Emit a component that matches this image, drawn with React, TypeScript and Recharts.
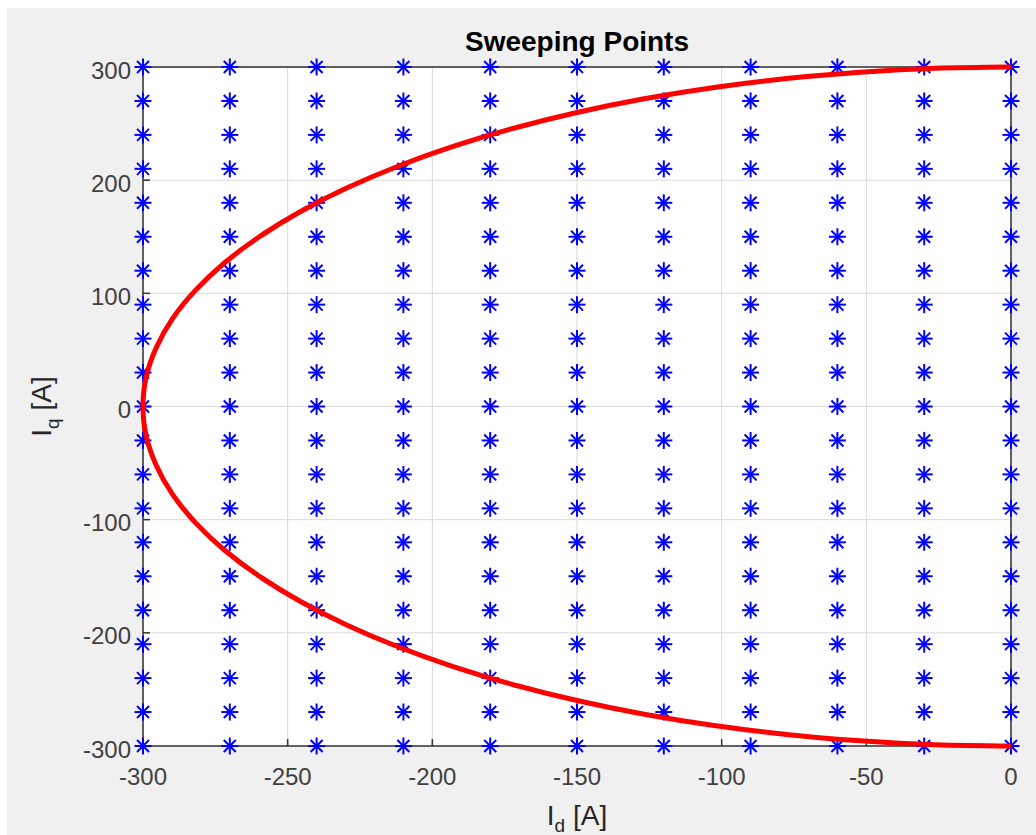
import React from "react";
import {
  ScatterChart,
  Scatter,
  XAxis,
  YAxis,
  CartesianGrid,
} from "recharts";

// sweep grid (blue stars)
const idValues = [-300, -270, -240, -210, -180, -150, -120, -90, -60, -30, 0];
const iqValues = [
  -300, -270, -240, -210, -180, -150, -120, -90, -60, -30, 0, 30, 60, 90, 120,
  150, 180, 210, 240, 270, 300,
];

// current limit curve (red)
const curveId = [
  0, -26.1, -52.1, -77.6, -102.6, -126.8, -150, -172.1, -192.8, -212.1, -229.8,
  -245.7, -259.8, -271.9, -281.9, -289.8, -295.4, -298.9, -300, -298.9, -295.4,
  -289.8, -281.9, -271.9, -259.8, -245.7, -229.8, -212.1, -192.8, -172.1, -150,
  -126.8, -102.6, -77.6, -52.1, -26.1, 0,
];
const curveIq = [
  -300, -298.9, -295.4, -289.8, -281.9, -271.9, -259.8, -245.7, -229.8, -212.1,
  -192.8, -172.1, -150, -126.8, -102.6, -77.6, -52.1, -26.1, 0, 26.1, 52.1,
  77.6, 102.6, 126.8, 150, 172.1, 192.8, 212.1, 229.8, 245.7, 259.8, 271.9,
  281.9, 289.8, 295.4, 298.9, 300,
];

const xTicks = [-300, -250, -200, -150, -100, -50, 0];
const yTicks = [-300, -200, -100, 0, 100, 200, 300];

const sweepPoints = idValues.flatMap((id) => iqValues.map((iq) => ({ id, iq })));
const curvePoints = curveId.map((id, i) => ({ id, iq: curveIq[i] }));

const FONT = '"Liberation Sans", Arial, Helvetica, sans-serif';
const AXIS_COLOR = "#333333";
const TICK_COLOR = "#404040";

const Star = (props: any) => {
  const { cx, cy } = props;
  const r = 8.5;
  const d = 6;
  return (
    <g stroke="#0000ff" strokeWidth={2}>
      <line x1={cx - r} y1={cy} x2={cx + r} y2={cy} />
      <line x1={cx} y1={cy - r} x2={cx} y2={cy + r} />
      <line x1={cx - d} y1={cy - d} x2={cx + d} y2={cy + d} />
      <line x1={cx - d} y1={cy + d} x2={cx + d} y2={cy - d} />
    </g>
  );
};

const NoDot = () => <g />;

const XTick = (props: any) => {
  const { x, y, payload } = props;
  return (
    <text
      x={x}
      y={y}
      dy={17}
      textAnchor="middle"
      fill={TICK_COLOR}
      fontSize={24}
      fontFamily={FONT}
    >
      {payload.value}
    </text>
  );
};

const YTick = (props: any) => {
  const { x, y, payload } = props;
  return (
    <text
      x={x}
      y={y}
      dy={11.5}
      textAnchor="end"
      fill={TICK_COLOR}
      fontSize={24}
      fontFamily={FONT}
    >
      {payload.value}
    </text>
  );
};

const TitleLabel = (props: any) => {
  const { viewBox } = props;
  if (!viewBox) return null;
  return (
    <text
      x={viewBox.x + viewBox.width / 2}
      y={viewBox.y - 15}
      textAnchor="middle"
      fontSize={28}
      fontWeight="bold"
      fontFamily={FONT}
      fill="#000"
    >
      Sweeping Points
    </text>
  );
};

const XLabel = (props: any) => {
  const { viewBox } = props;
  if (!viewBox) return null;
  return (
    <text
      x={viewBox.x + viewBox.width / 2}
      y={viewBox.y + 79}
      textAnchor="middle"
      fontSize={28}
      fontFamily={FONT}
      fill="#262626"
    >
      I
      <tspan fontSize={19} dy={7}>
        d
      </tspan>
      <tspan dy={-7}> [A]</tspan>
    </text>
  );
};

const YLabel = (props: any) => {
  const { viewBox } = props;
  if (!viewBox) return null;
  const x = viewBox.x + viewBox.width - 92;
  const y = viewBox.y + viewBox.height / 2;
  return (
    <text
      x={x}
      y={y}
      transform={`rotate(-90 ${x} ${y})`}
      textAnchor="middle"
      fontSize={28}
      fontFamily={FONT}
      fill="#262626"
    >
      I
      <tspan fontSize={19} dy={8}>
        q
      </tspan>
      <tspan dy={-8}> [A]</tspan>
    </text>
  );
};

export default function App() {
  return (
    <div
      style={{
        position: "fixed",
        left: 7,
        top: 8,
        width: 1029,
        height: 827,
        background: "#f0f0f0",
      }}
    >
      <ScatterChart
        width={1029}
        height={827}
        margin={{ top: 58, right: 24, bottom: 0, left: 0 }}
      >
        <CartesianGrid stroke="#d9d9d9" strokeWidth={1} fill="#ffffff" />
        <XAxis
          type="number"
          dataKey="id"
          domain={[-300, 0]}
          ticks={xTicks}
          height={89}
          stroke={AXIS_COLOR}
          strokeWidth={1.5}
          tickSize={-7}
          tickMargin={28.5}
          tick={<XTick />}
          label={<XLabel />}
        />
        <XAxis
          xAxisId="top"
          orientation="top"
          type="number"
          dataKey="id"
          domain={[-300, 0]}
          ticks={xTicks}
          height={1}
          stroke={AXIS_COLOR}
          strokeWidth={1.5}
          tickSize={-7}
          tick={false}
          label={<TitleLabel />}
        />
        <YAxis
          type="number"
          dataKey="iq"
          domain={[-300, 300]}
          ticks={yTicks}
          width={136}
          stroke={AXIS_COLOR}
          strokeWidth={1.5}
          tickSize={-7}
          tickMargin={19}
          tick={<YTick />}
          label={<YLabel />}
        />
        <YAxis
          yAxisId="right"
          orientation="right"
          type="number"
          dataKey="iq"
          domain={[-300, 300]}
          ticks={yTicks}
          width={1}
          stroke={AXIS_COLOR}
          strokeWidth={1.5}
          tickSize={-7}
          tick={false}
        />
        <Scatter
          data={curvePoints}
          xAxisId="top"
          yAxisId="right"
          shape={<NoDot />}
          isAnimationActive={false}
        />
        <Scatter
          data={sweepPoints}
          shape={<Star />}
          isAnimationActive={false}
        />
        <Scatter
          data={curvePoints}
          shape={<NoDot />}
          line={{ stroke: "#ff0000", strokeWidth: 5 }}
          lineJointType="natural"
          isAnimationActive={false}
        />
      </ScatterChart>
    </div>
  );
}
